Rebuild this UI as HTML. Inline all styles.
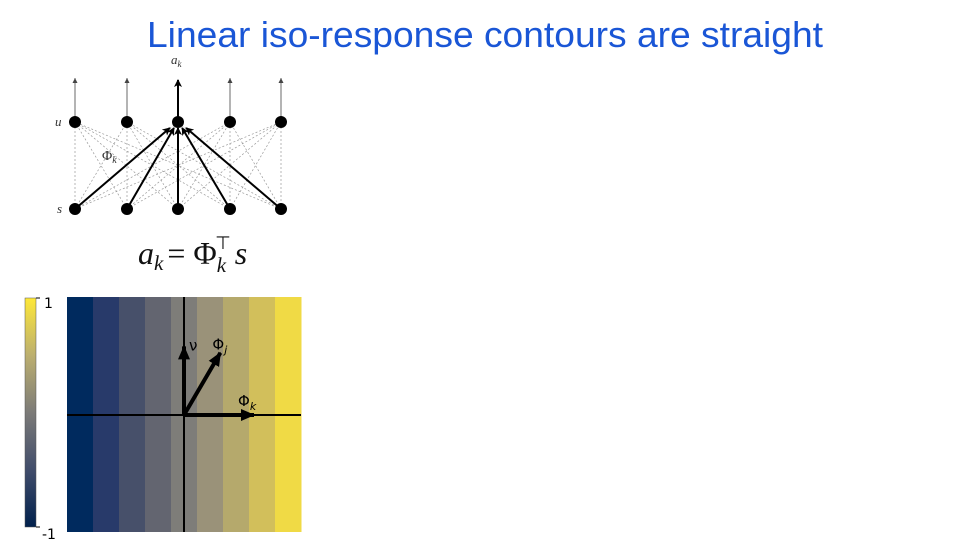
<!DOCTYPE html>
<html><head><meta charset="utf-8"><style>
html,body{margin:0;padding:0;background:#fff;width:960px;height:540px;overflow:hidden}
svg{display:block}
</style></head><body>
<svg id="s" width="960" height="540" xmlns="http://www.w3.org/2000/svg">
<defs>
<linearGradient id="cb" x1="0" y1="1" x2="0" y2="0">
<stop offset="0" stop-color="#00204c"/><stop offset="0.25" stop-color="#414d6b"/>
<stop offset="0.5" stop-color="#7c7b78"/><stop offset="0.75" stop-color="#bcaf6f"/>
<stop offset="1" stop-color="#fee838"/></linearGradient>
<marker id="ah" markerWidth="8" markerHeight="8" refX="7" refY="4" orient="auto" markerUnits="userSpaceOnUse"><path d="M0,0 L8,4 L0,8 L2,4z" fill="#000"/></marker>
<marker id="ahs" markerWidth="5" markerHeight="5" refX="5" refY="2.5" orient="auto" markerUnits="userSpaceOnUse"><path d="M0,0 L5,2.5 L0,5z" fill="#444"/></marker>
<marker id="big" markerWidth="14" markerHeight="12" refX="13" refY="6" orient="auto" markerUnits="userSpaceOnUse"><path d="M0,0 L14,6 L0,12z" fill="#000"/></marker>
</defs>
<text x="485" y="47" text-anchor="middle" font-family="Liberation Sans, sans-serif" font-size="36" fill="#1a56d6" textLength="676" lengthAdjust="spacingAndGlyphs">Linear iso-response contours are straight</text>
<g id="net"></g>
<text x="171" y="64" font-family="Liberation Serif, serif" font-style="italic" font-size="13" fill="#333">a<tspan font-size="9" dy="3">k</tspan></text>
<text x="55" y="126" font-family="Liberation Serif, serif" font-style="italic" font-size="13" fill="#333">u</text>
<text x="57" y="213" font-family="Liberation Serif, serif" font-style="italic" font-size="13" fill="#333">s</text>
<text x="102" y="160" font-family="Liberation Serif, serif" font-size="14" fill="#333">Φ<tspan font-size="10" font-style="italic" dy="3">k</tspan></text>
<text x="138" y="264" font-family="Liberation Serif, serif" font-size="32" fill="#111"><tspan font-style="italic">a</tspan><tspan font-style="italic" font-size="21" dy="6">k</tspan><tspan dy="-6" dx="4">= Φ</tspan><tspan font-size="21" dy="8" font-style="italic">k</tspan><tspan font-size="18" dx="-11" dy="-23">⊤</tspan><tspan font-style="italic" dy="15" dx="4">s</tspan></text>
<g id="heat"></g>
<rect x="25" y="298" width="11" height="229" fill="url(#cb)" stroke="#555" stroke-width="0.5"/>
<line x1="36" y1="298" x2="40" y2="298" stroke="#000"/><line x1="36" y1="527" x2="40" y2="527" stroke="#000"/>
<text x="44" y="308" font-family="DejaVu Sans, sans-serif" font-size="14">1</text>
<text x="42" y="539" font-family="DejaVu Sans, sans-serif" font-size="14">-1</text>
</svg>
<script>
const stripeValues = [-1, -0.75, -0.5, -0.25, 0, 0.25, 0.5, 0.75, 1];
const stripeColors = ["#002a5e","#283a6a","#47506a","#636570","#7e7d79","#9a9279","#b5a96c","#d2bf5b","#f0da45"];
const vecV = [0, 0.98];
const vecPhiJ = [0.52, 0.89];
const vecPhiK = [1.0, 0];
const NS = "http://www.w3.org/2000/svg";
function mk(p, t, a){const e=document.createElementNS(NS,t);for(const k in a)e.setAttribute(k,a[k]);p.appendChild(e);return e;}
const hx0=67,hx1=301,hy0=297,hy1=532;
const heat=document.getElementById('heat');
const sw=(hx1-hx0)/stripeValues.length;
stripeValues.forEach((v,i)=>{
  const r=mk(heat,'rect',{x:hx0+i*sw,y:hy0,width:sw+0.5,height:hy1-hy0,fill:stripeColors[i]});
  
  
});
const ox=184, oy=415, sc=70;
const X=v=>ox+v*sc, Y=v=>oy-v*sc;
const ax1=mk(heat,'line',{x1:hx0,y1:oy,x2:hx1,y2:oy,stroke:'#000','stroke-width':2});


const ax2=mk(heat,'line',{x1:ox,y1:hy0,x2:ox,y2:hy1,stroke:'#000','stroke-width':2});


[[vecV,'vector-v','ν',5,4],[vecPhiJ,'vector-phi-j','Φ',-8,-3],[vecPhiK,'vector-phi-k','Φ',-16,-9]].forEach(([v,n,l,dx,dy],i)=>{
  const ln=mk(heat,'line',{x1:ox,y1:oy,x2:X(v[0]),y2:Y(v[1]),stroke:'#000','stroke-width':4,'marker-end':'url(#big)'});
  
  
  const t=mk(heat,'text',{x:X(v[0])+dx,y:Y(v[1])+dy,'font-family':'DejaVu Sans, sans-serif','font-size':15});
  t.textContent=l;
  if(i>0){const ts=mk(t,'tspan',{'font-size':11,dy:4,'font-style':'italic'});ts.textContent=i==1?'j':'k';}
  
  
});
const net=document.getElementById('net');
const nx=[75,127,178,230,281], ty=122, by=209;
nx.forEach(a=>nx.forEach(b=>{ mk(net,'line',{x1:a,y1:by,x2:b,y2:ty,stroke:'#999','stroke-width':0.7,'stroke-dasharray':'2,2'});}));
nx.forEach((x,i)=>{
  const c=i===2;
  const up=mk(net,'line',{x1:x,y1:ty,x2:x,y2:c?80:78,stroke:c?'#000':'#444','stroke-width':c?2:0.8,'marker-end':c?'url(#ah)':'url(#ahs)'});
  
  
  const w=mk(net,'line',{x1:x,y1:by,x2:178+(x-178)*0.08,y2:ty+6,stroke:'#000','stroke-width':2,'marker-end':'url(#ah)'});
  
  
});
nx.forEach((x,i)=>{
  const u=mk(net,'circle',{cx:x,cy:ty,r:6,fill:'#000'});
  
  
  const s=mk(net,'circle',{cx:x,cy:by,r:6,fill:'#000'});
  
  
});
</script>
</body></html>
